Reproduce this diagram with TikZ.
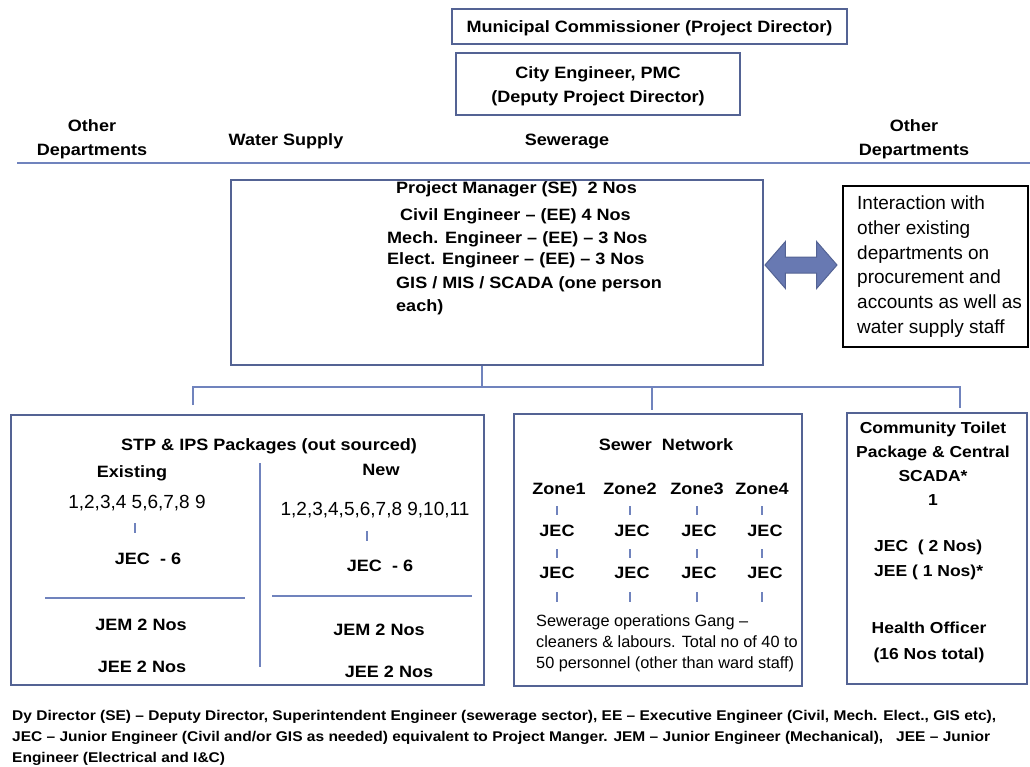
\documentclass[tikz,border=0pt]{standalone}
\usepackage{fontspec}
\setmainfont{Liberation Sans}[BoldFeatures={FakeStretch=1.1}]
\usetikzlibrary{shapes.arrows}

\definecolor{boxblue}{RGB}{84,99,148}
\definecolor{linkblue}{RGB}{112,131,189}
\definecolor{arrowblue}{RGB}{104,121,178}

\begin{document}
\begin{tikzpicture}[
    x=1pt, y=-1pt,
    orgbox/.style={rectangle, draw=boxblue, line width=2.4pt, inner sep=0pt},
    notebox/.style={rectangle, draw=black, line width=2.4pt, inner sep=0pt},
    link/.style={draw=linkblue, line width=2pt},
    head/.style={font=\bfseries\fontsize{16.4}{24}\selectfont, align=center, inner sep=0pt, text height=11.7pt, text depth=0pt},
    ctext/.style={font=\bfseries\fontsize{15.9}{24}\selectfont, align=center, inner sep=0pt, text height=11.4pt, text depth=0pt},
    plain/.style={font=\fontsize{19}{24.8}\selectfont, align=left, inner sep=0pt, text height=13pt, text depth=0pt},
    para/.style={font=\fontsize{16.3}{21}\selectfont, align=left, inner sep=0pt, text height=11.6pt, text depth=0pt},
    legend/.style={font=\bfseries\fontsize{14.1}{21}\selectfont, align=left, inner sep=0pt, text height=10pt, text depth=0pt}
]
    \useasboundingbox (0,0) rectangle (1030,766);

    \node[orgbox, head, minimum width=395, minimum height=35] (mc) at (649.5,26.5) {Municipal Commissioner (Project Director)};
    \node[orgbox, minimum width=284, minimum height=62] (ce) at (598,84) {};
    \node[head] (cetext) at (598,97) {City Engineer, PMC\\(Deputy Project Director)};

    \node[head] (odl) at (92,150) {Other\\Departments};
    \node[head] (ws) at (286,140) {Water Supply};
    \node[head] (sw) at (567,140) {Sewerage};
    \node[head] (odr) at (914,150) {Other\\Departments};
    \coordinate (divL) at (17,163);
    \coordinate (divR) at (1030,163);
    \draw[link] (divL) -- (divR);

    \node[orgbox, minimum width=532, minimum height=185] (pm) at (497,272.5) {};
    \node[head, anchor=west] (pm1) at (396,188) {Project Manager (SE) \ 2 Nos};
    \node[head, anchor=west] (pm2) at (400,215) {Civil Engineer -- (EE) 4 Nos};
    \node[head, anchor=west] (pm3) at (387,238) {Mech. Engineer -- (EE) -- 3 Nos};
    \node[head, anchor=west] (pm4) at (387,259) {Elect. Engineer -- (EE) -- 3 Nos};
    \node[head, align=left, anchor=west, font=\bfseries\fontsize{16.4}{23}\selectfont] (pm5) at (396,306) {GIS / MIS / SCADA (one person\\each)};

    \node[double arrow, fill=arrowblue, draw=boxblue, line width=1pt, inner sep=7.5pt, minimum height=72, double arrow head extend=15.5pt, double arrow tip angle=98] (xchg) at (801,265) {};

    \node[notebox, minimum width=185, minimum height=161] (ia) at (935.5,266.5) {};
    \node[plain, anchor=west] (iatext) at (857,327) {Interaction with\\other existing\\departments on\\procurement and\\accounts as well as\\water supply staff};

    \coordinate (bus) at (482,387);
    \coordinate (busL) at (193,387);
    \coordinate (busM) at (652,387);
    \coordinate (busR) at (960,387);
    \coordinate (stpIn) at (193,405);
    \coordinate (swrIn) at (652,410);
    \coordinate (ctIn) at (960,408);
    \draw[link] (pm.south -| bus) -- (bus);
    \draw[link] (stpIn) -- (busL) -- (busR) -- (ctIn);
    \draw[link] (busM) -- (swrIn);

    % STP & IPS
    \node[orgbox, minimum width=473, minimum height=270] (stp) at (247.5,550) {};
    \node[head] (stph) at (269,445) {STP \& IPS Packages (out sourced)};
    \draw[link] (260,463) -- (260,667);
    \node[head] (exist) at (132,472) {Existing};
    \node[plain] (exnum) at (137,502) {1,2,3,4 5,6,7,8 9};
    \draw[link] (135,523) -- (135,533);
    \node[head] (exjec) at (148,559) {JEC \ - 6};
    \draw[link] (45,598) -- (245,598);
    \node[head] (exjem) at (141,625) {JEM 2 Nos};
    \node[head] (exjee) at (142,667) {JEE 2 Nos};
    \node[head] (new) at (381,470) {New};
    \node[plain] (nwnum) at (375,509) {1,2,3,4,5,6,7,8 9,10,11};
    \draw[link] (367,531) -- (367,541);
    \node[head] (nwjec) at (380,566) {JEC \ - 6};
    \draw[link] (272,596) -- (472,596);
    \node[head] (nwjem) at (379,630) {JEM 2 Nos};
    \node[head] (nwjee) at (389,672) {JEE 2 Nos};

    % sewer network
    \node[orgbox, minimum width=288, minimum height=272] (swr) at (658,550) {};
    \node[head] (swrh) at (666,445) {Sewer \ Network};
    \foreach \i/\zx/\jx/\tx in {1/559/557/557, 2/630/632/630, 3/697/699/697, 4/762/765/762} {
        \node[head] (zone\i) at (\zx,489) {Zone\i};
        \draw[link] (\tx,506) -- (\tx,515);
        \node[head] (jecA\i) at (\jx,531) {JEC};
        \draw[link] (\tx,549) -- (\tx,558);
        \node[head] (jecB\i) at (\jx,573) {JEC};
        \draw[link] (\tx,592) -- (\tx,602);
    }
    \node[para, anchor=west] (gang) at (536,663) {Sewerage operations Gang --\\cleaners \& labours. Total no of 40 to\\50 personnel (other than ward staff)};

    % community toilet
    \node[orgbox, minimum width=180, minimum height=271] (ct) at (937,548.5) {};
    \node[ctext] (cth) at (933,500) {Community Toilet\\Package \& Central\\SCADA*\\1};
    \node[ctext, align=left, anchor=west, font=\bfseries\fontsize{15.9}{25}\selectfont] (ctjec) at (874,571) {JEC \ ( 2 Nos)\\JEE ( 1 Nos)*};
    \node[ctext, font=\bfseries\fontsize{15.9}{26}\selectfont] (cthealth) at (929,654) {Health Officer\\(16 Nos total)};

    \node[legend, anchor=west] (key) at (12,757) {Dy Director (SE) -- Deputy Director, Superintendent Engineer (sewerage sector), EE -- Executive Engineer (Civil, Mech. Elect., GIS etc),\\JEC -- Junior Engineer (Civil and/or GIS as needed) equivalent to Project Manger. JEM -- Junior Engineer (Mechanical), \ \ JEE -- Junior\\Engineer (Electrical and I\&C)};
\end{tikzpicture}
\end{document}
